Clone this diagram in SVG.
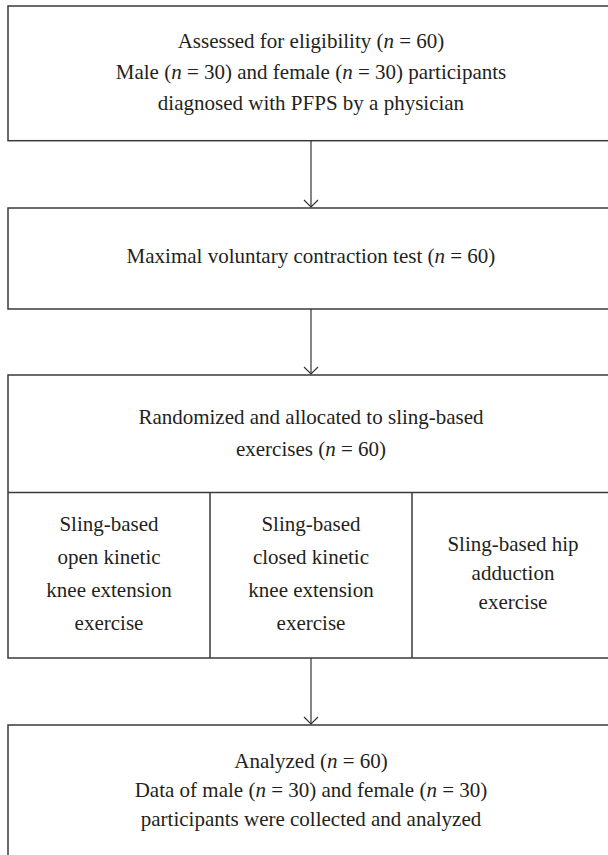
<svg xmlns="http://www.w3.org/2000/svg" width="608" height="855" viewBox="0 0 608 855">
<style>
.box{fill:#fff;stroke:#3a3a3a;stroke-width:1.5}
.div{stroke:#3a3a3a;stroke-width:1.5;fill:none}
.t{font-family:"Liberation Serif","Times New Roman",serif;font-size:21px;fill:#231f20;text-anchor:middle}
.i{font-style:italic}
.conn{stroke:#333;stroke-width:1.2;fill:none}
</style>
<rect width="608" height="855" fill="#fff"/>
<g id="node-eligibility">
<rect class="box" x="8" y="6" width="606" height="134.7"/>
<text class="t" x="311" y="48">Assessed for eligibility (<tspan class="i">n</tspan> = 60)</text>
<text class="t" x="311" y="79">Male (<tspan class="i">n</tspan> = 30) and female (<tspan class="i">n</tspan> = 30) participants</text>
<text class="t" x="311" y="110">diagnosed with PFPS by a physician</text>
</g>
<g id="node-mvc">
<rect class="box" x="8" y="208" width="606" height="101"/>
<text class="t" x="311" y="263">Maximal voluntary contraction test (<tspan class="i">n</tspan> = 60)</text>
</g>
<g id="node-randomized">
<rect class="box" x="8" y="375" width="606" height="283"/>
<line class="div" x1="8" y1="492.5" x2="614" y2="492.5"/>
<line class="div" x1="210" y1="492.5" x2="210" y2="658"/>
<line class="div" x1="412" y1="492.5" x2="412" y2="658"/>
<text class="t" x="311" y="424">Randomized and allocated to sling-based</text>
<text class="t" x="311" y="456">exercises (<tspan class="i">n</tspan> = 60)</text>
</g>
<g id="node-open">
<text class="t" x="109" y="531">Sling-based</text>
<text class="t" x="109" y="564">open kinetic</text>
<text class="t" x="109" y="597">knee extension</text>
<text class="t" x="109" y="630">exercise</text>
</g>
<g id="node-closed">
<text class="t" x="311" y="531">Sling-based</text>
<text class="t" x="311" y="564">closed kinetic</text>
<text class="t" x="311" y="597">knee extension</text>
<text class="t" x="311" y="630">exercise</text>
</g>
<g id="node-hip">
<text class="t" x="513" y="551">Sling-based hip</text>
<text class="t" x="513" y="580">adduction</text>
<text class="t" x="513" y="609">exercise</text>
</g>
<g id="node-analyzed">
<rect class="box" x="8" y="725" width="606" height="133"/>
<text class="t" x="311" y="768">Analyzed (<tspan class="i">n</tspan> = 60)</text>
<text class="t" x="311" y="797">Data of male (<tspan class="i">n</tspan> = 30) and female (<tspan class="i">n</tspan> = 30)</text>
<text class="t" x="311" y="826">participants were collected and analyzed</text>
</g>
<g id="connectors">
<line class="conn" x1="311" y1="141" x2="311" y2="207"/>
<polyline class="conn" points="304,200 311,207 318,200"/>
<line class="conn" x1="311" y1="309" x2="311" y2="374"/>
<polyline class="conn" points="304,367 311,374 318,367"/>
<line class="conn" x1="311" y1="658" x2="311" y2="724"/>
<polyline class="conn" points="304,717 311,724 318,717"/>
</g>
</svg>
